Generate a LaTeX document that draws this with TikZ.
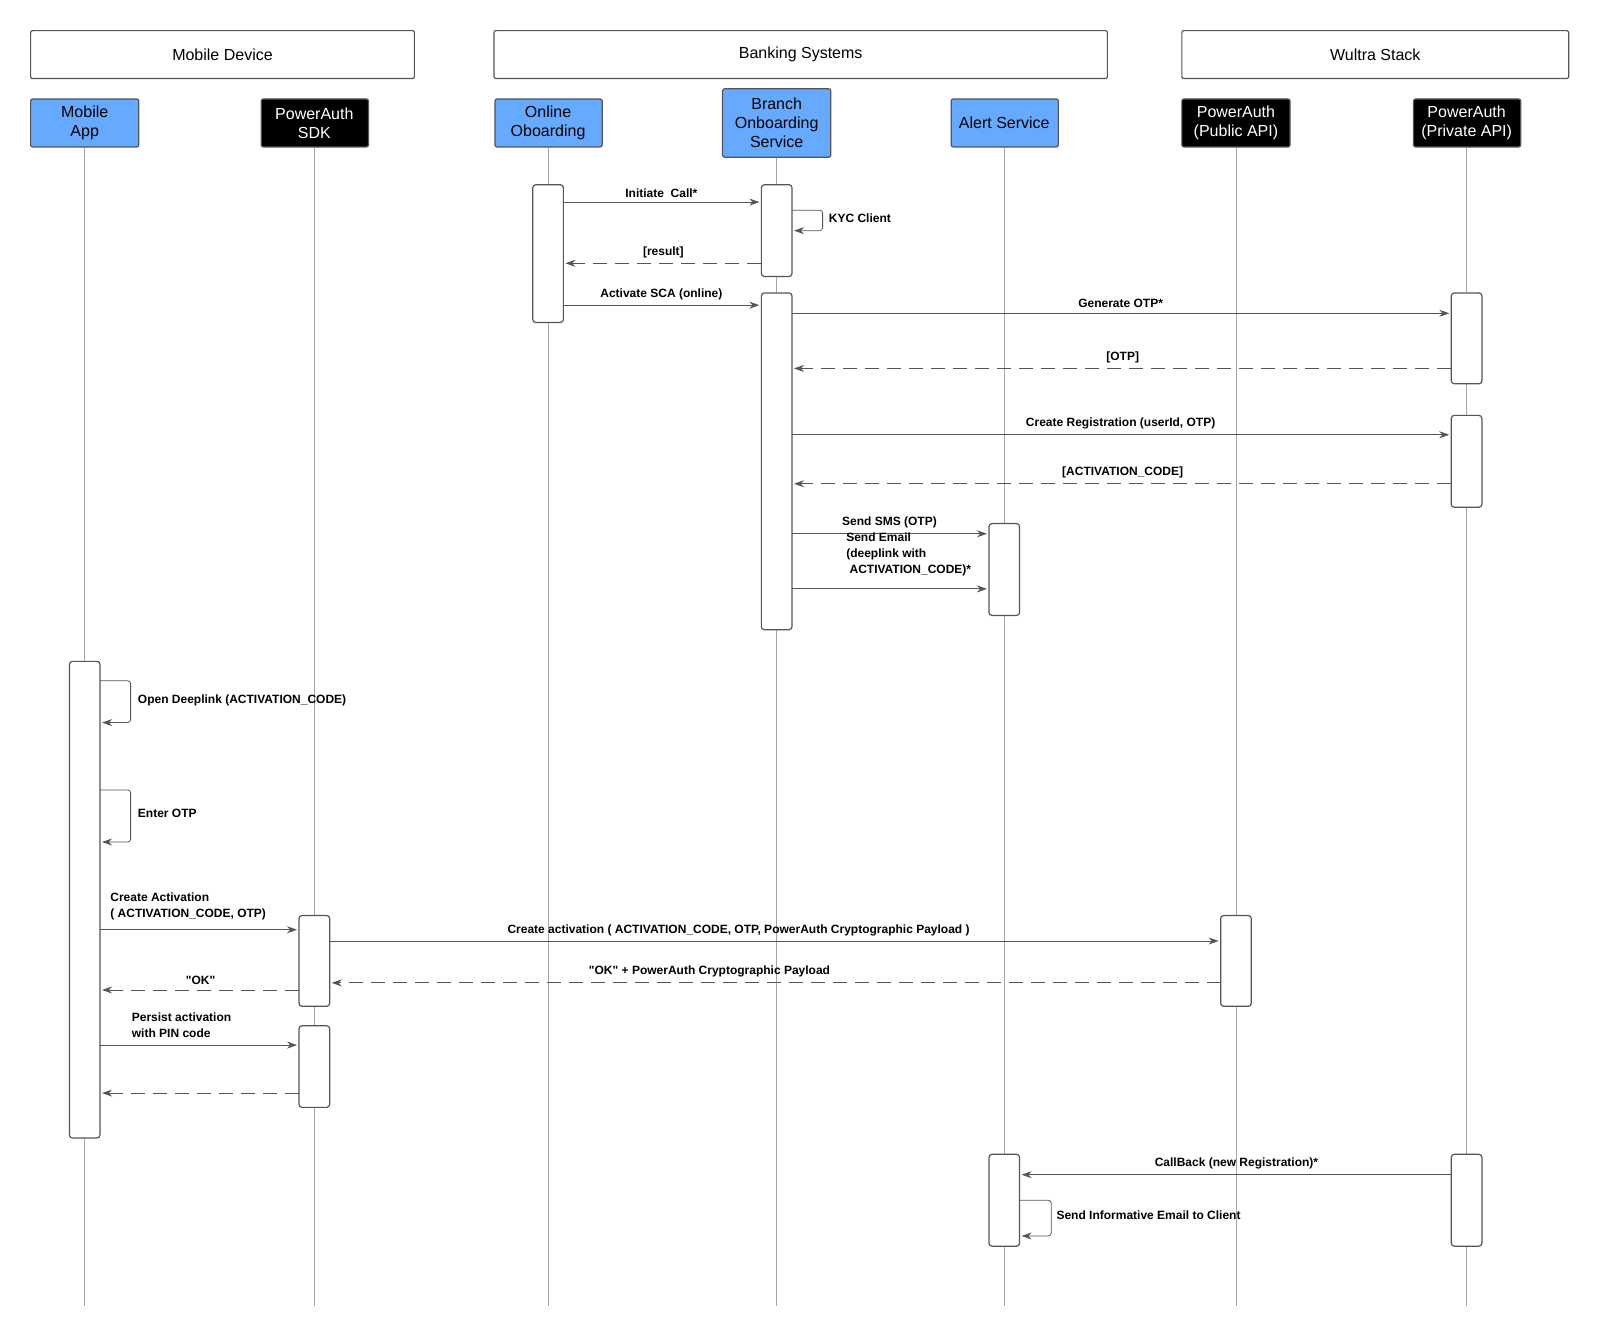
\documentclass[tikz,border=0pt]{standalone}
\usepackage{fontspec}
\setmainfont{Liberation Sans}
\usetikzlibrary{arrows.meta}
\definecolor{blu}{HTML}{66AAFF}
\definecolor{ln}{HTML}{555555}
\begin{document}
\begin{tikzpicture}[x=1.0206pt,y=-1.0206pt,
 grp/.style={draw=ln,line width=1.2pt,rounded corners=2pt,fill=white},
 part/.style={draw=ln,line width=1.2pt,rounded corners=2pt},
 pb/.style={part,fill=blu},
 pk/.style={part,fill=black},
 pt/.style={font=\fontsize{16}{19}\selectfont,align=center},
 life/.style={draw=gray!70,line width=0.8pt},
 act/.style={draw=ln,line width=1.2pt,rounded corners=3pt,fill=white},
 msg/.style={draw=ln,line width=0.8pt,-{Stealth[length=10pt,width=7pt]}},
 ret/.style={msg,dash pattern=on 14pt off 8pt},
 lb/.style={font=\bfseries\fontsize{12}{14}\selectfont,inner sep=1pt},
 lbl/.style={lb,anchor=west,align=left}]
\useasboundingbox (0,0) rectangle (1567.7,1312);
% groups
\draw[grp] (30,30) rectangle node[pt]{Mobile Device} (406,77);
\draw[grp] (484,30) rectangle node[pt]{Banking Systems} (1085,77);
\draw[grp] (1158,30) rectangle node[pt]{Wultra Stack} (1537,77);
% lifelines
\foreach \x/\y in {83/144,308/144,537/144,761/154,984/144,1211/144,1437/144}
  \draw[life] (\x,\y) -- (\x,1280);
% participants
\draw[pb] (30,97) rectangle (136,144); \node[pt] (ma) at (83,120.5) {Mobile\\App};
\draw[pk] (256,97) rectangle (361,144); \node[pt,text=white] (sdk) at (308,120.5) {PowerAuth\\SDK};
\draw[pb] (485,97) rectangle (590,144); \node[pt] (oo) at (537,120.5) {Online\\Oboarding};
\draw[pb] (708,87) rectangle (814,154); \node[pt] (bo) at (761,120.5) {Branch\\Onboarding\\Service};
\draw[pb] (932,97) rectangle (1037,144); \node[pt] (as) at (984,120.5) {Alert Service};
\draw[pk] (1158,97) rectangle (1264,144); \node[pt,text=white] (pub) at (1211,120.5) {PowerAuth\\(Public API)};
\draw[pk] (1385,97) rectangle (1490,144); \node[pt,text=white] (prv) at (1437,120.5) {PowerAuth\\(Private API)};
% activations
\foreach \a/\b/\c/\d in {522/181/552/316, 746/181/776/271, 746/287/776/617, 1422/287/1452/376, 1422/407/1452/497, 969/513/999/603, 969/1131/999/1221, 68/648/98/1115, 293/897/323/986, 293/1005/323/1085, 1196/897/1226/986, 1422/1131/1452/1221}
  \draw[act] (\a,\b) rectangle (\c,\d);
% messages
\coordinate (a1) at (552,198); \coordinate (b1) at (744,198);
\draw[msg] (a1) -- node[lb,above=3pt]{Initiate\ \ Call*} (b1);
\coordinate (k1) at (776,206); \coordinate (k2) at (778,226);
\draw[msg,rounded corners=3pt] (k1) -- (806,206) -- (806,226) -- (k2);
\node[lbl] (kyc) at (811,214) {KYC Client};
\coordinate (r1) at (746,258); \coordinate (r2) at (554,258);
\draw[ret] (r1) -- node[lb,above=4pt]{[result]} (r2);
\coordinate (s1) at (552,299); \coordinate (s2) at (744,299);
\draw[msg] (s1) -- node[lb,above=4pt]{Activate SCA (online)} (s2);
\coordinate (g1) at (776,307); \coordinate (g2) at (1420,307);
\draw[msg] (g1) -- node[lb,above=4pt]{Generate OTP*} (g2);
\coordinate (o1) at (1422,361); \coordinate (o2) at (778,361);
\draw[ret] (o1) -- node[lb,above=4pt]{[OTP]} (o2);
\coordinate (c1) at (776,426); \coordinate (c2) at (1420,426);
\draw[msg] (c1) -- node[lb,above=4pt]{Create Registration (userId, OTP)} (c2);
\coordinate (d1) at (1422,474); \coordinate (d2) at (778,474);
\draw[ret] (d1) -- node[lb,above=4pt]{[ACTIVATION\_CODE]} (d2);
\coordinate (e1) at (776,523); \coordinate (e2) at (967,523);
\draw[msg] (e1) -- node[lb,above=4pt]{Send SMS (OTP)} (e2);
\coordinate (f1) at (776,577); \coordinate (f2) at (967,577);
\draw[msg] (f1) -- (f2);
\node[lbl,anchor=north west,font=\bfseries\fontsize{12}{16}\selectfont] (em) at (828,521) {Send Email\\(deeplink with\\\ ACTIVATION\_CODE)*};
\coordinate (m1) at (98,667); \coordinate (m2) at (100,708);
\draw[msg,rounded corners=3pt] (m1) -- (128,667) -- (128,708) -- (m2);
\node[lbl] (odl) at (134,686) {Open Deeplink (ACTIVATION\_CODE)};
\coordinate (n1) at (98,774); \coordinate (n2) at (100,825);
\draw[msg,rounded corners=3pt] (n1) -- (128,774) -- (128,825) -- (n2);
\node[lbl] (eo) at (134,797) {Enter OTP};
\coordinate (p1) at (98,911); \coordinate (p2) at (291,911);
\draw[msg] (p1) -- (p2);
\node[lbl,anchor=south west,font=\bfseries\fontsize{12}{16}\selectfont] (ca) at (107,903) {Create Activation\\( ACTIVATION\_CODE, OTP)};
\coordinate (q1) at (323,922); \coordinate (q2) at (1194,922);
\draw[msg] (q1) -- node[lb,above=4pt,pos=0.46]{Create activation ( ACTIVATION\_CODE, OTP, PowerAuth Cryptographic Payload )} (q2);
\coordinate (u1) at (1196,963); \coordinate (u2) at (325,963);
\draw[ret] (u1) -- node[lb,above=4pt,pos=0.575]{\textquotedbl OK\textquotedbl\ + PowerAuth Cryptographic Payload} (u2);
\coordinate (v1) at (293,970); \coordinate (v2) at (100,970);
\draw[ret] (v1) -- node[lb,above=4pt,pos=0.5]{\textquotedbl OK\textquotedbl} (v2);
\coordinate (w1) at (98,1024); \coordinate (w2) at (291,1024);
\draw[msg] (w1) -- (w2);
\node[lbl,anchor=south west,font=\bfseries\fontsize{12}{16}\selectfont] (pa) at (128,1018) {Persist activation\\with PIN code};
\coordinate (x1) at (293,1071); \coordinate (x2) at (100,1071);
\draw[ret] (x1) -- (x2);
\coordinate (y1) at (1422,1151); \coordinate (y2) at (1001,1151);
\draw[msg] (y1) -- node[lb,above=4pt]{CallBack (new Registration)*} (y2);
\coordinate (z1) at (999,1176); \coordinate (z2) at (1001,1211);
\draw[msg,rounded corners=3pt] (z1) -- (1030,1176) -- (1030,1211) -- (z2);
\node[lbl] (sie) at (1034,1191) {Send Informative Email to Client};
\end{tikzpicture}
\end{document}
